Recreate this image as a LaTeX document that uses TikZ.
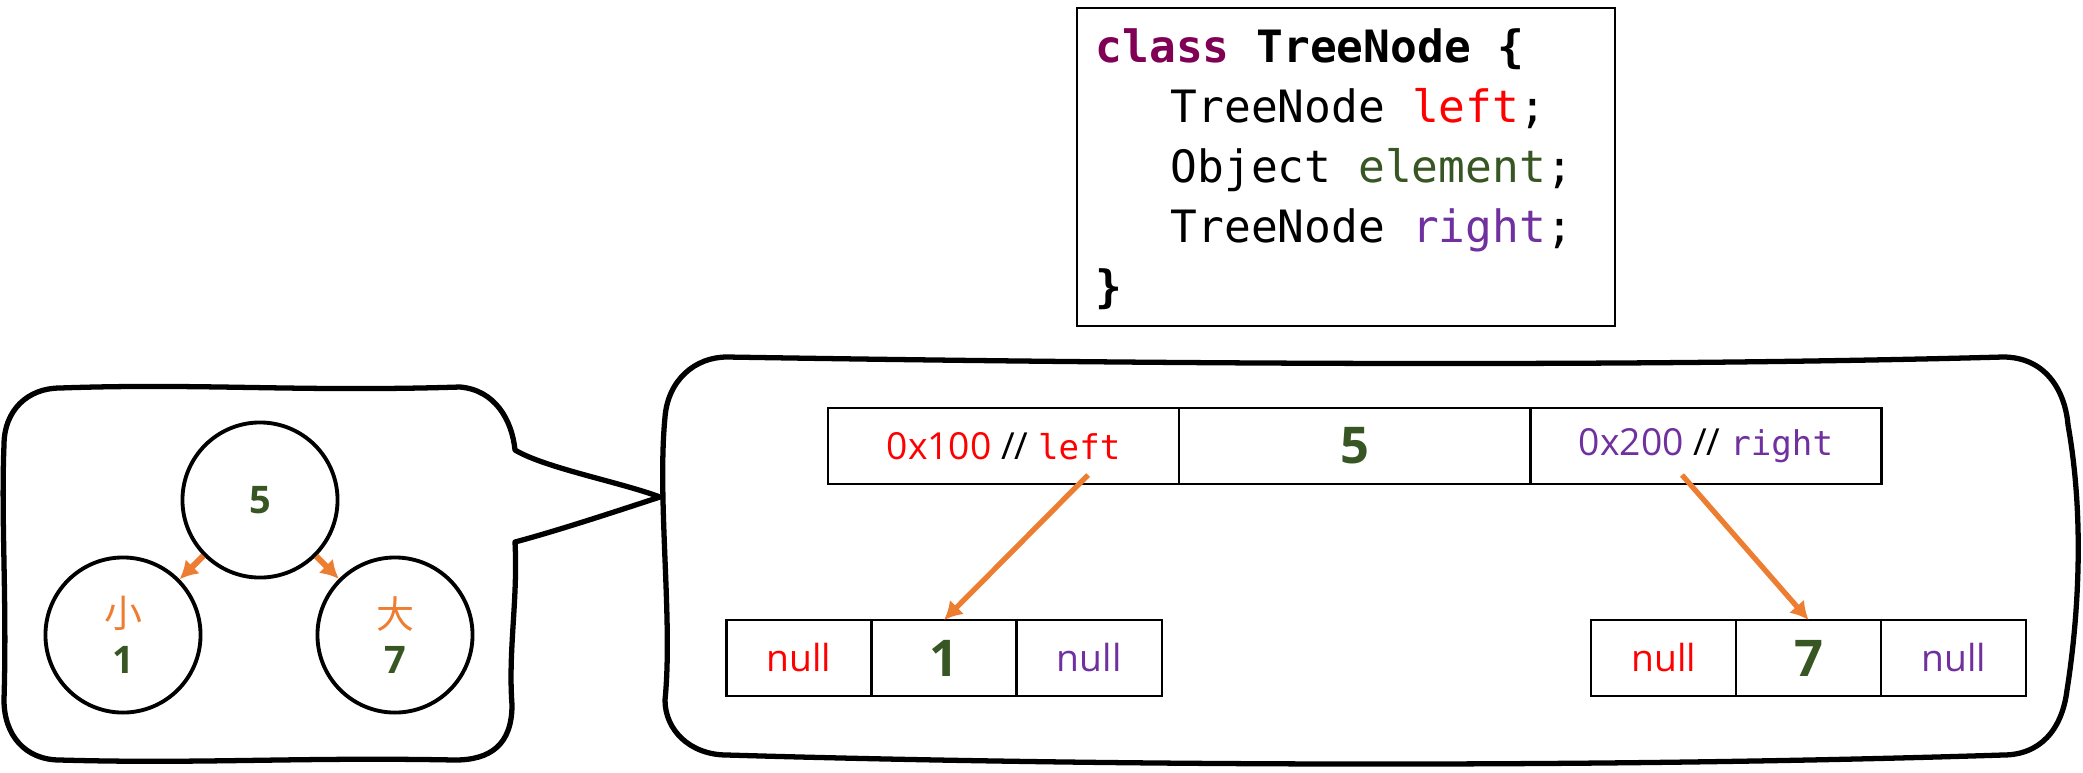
\documentclass[tikz,border=0pt]{standalone}
\usepackage{fontspec}
\setmainfont{Open Sans}
\setmonofont{DejaVu Sans Mono}
\newfontfamily\cjk{Noto Sans CJK SC}
\usetikzlibrary{positioning,arrows.meta}

\definecolor{kw}{RGB}{127,0,85}
\definecolor{fred}{RGB}{255,0,0}
\definecolor{fgreen}{RGB}{55,86,35}
\definecolor{fpurple}{RGB}{112,48,160}
\definecolor{forange}{RGB}{237,125,49}

\tikzset{
  bubble/.style={line width=1.5pt, line join=round},
  tnode/.style={circle, draw, line width=1.1pt, minimum size=1.55cm, inner sep=0pt,
    align=center, text=fgreen, font=\bfseries\fontsize{10.8pt}{13pt}\selectfont},
  cell/.style={rectangle, draw, line width=0.7pt, minimum height=0.76cm,
    inner sep=0pt, outer sep=0pt, font=\fontsize{10.6pt}{12pt}\selectfont},
  wide/.style={cell, minimum width=3.51cm},
  slot/.style={cell, minimum width=1.45cm},
  big/.style={text=fgreen, font=\bfseries\fontsize{14.4pt}{16pt}\selectfont},
  ptr/.style={forange, line width=1.5pt, -{Latex[length=0.18cm,width=0.2cm]}},
  node distance=0pt
}
\newcommand{\mono}[1]{{\ttfamily\fontsize{9.7pt}{12pt}\selectfont #1}}

\begin{document}
\begin{tikzpicture}[x=0.01cm, y=-0.01cm]
    \useasboundingbox (0,0) rectangle (2083,772);
    % speech bubble with the tree
    \draw[bubble] (60,388) .. controls (200,383) and (300,392) .. (460,387)
        .. controls (495,390) and (512,420) .. (515,450)
        .. controls (545,468) and (620,482) .. (660,497)
        .. controls (620,510) and (560,530) .. (515,542)
        .. controls (518,600) and (508,650) .. (512,705)
        .. controls (512,745) and (490,760) .. (455,760)
        .. controls (300,757) and (200,764) .. (60,760)
        .. controls (25,760) and (4,735) .. (4,700)
        .. controls (7,600) and (1,520) .. (4,445)
        .. controls (4,410) and (28,388) .. (60,388) -- cycle;
    % memory bubble
    \draw[bubble] (727,357) .. controls (1100,363) and (1600,368) .. (2003,357)
        .. controls (2045,357) and (2065,390) .. (2068,425)
        .. controls (2085,520) and (2078,620) .. (2067,690)
        .. controls (2062,730) and (2040,755) .. (2003,755)
        .. controls (1600,768) and (1100,766) .. (727,755)
        .. controls (690,755) and (665,730) .. (665,700)
        .. controls (673,620) and (657,500) .. (665,417)
        .. controls (668,380) and (695,357) .. (727,357) -- cycle;

    % class definition
    \node[draw, line width=0.6pt, minimum width=5.38cm, minimum height=3.18cm, inner sep=0pt] (code) at (1346,167) {};
    \node[anchor=north west, align=left, inner sep=0pt,
        font=\ttfamily\fontsize{12.66pt}{17.07pt}\selectfont] (src) at (1095,28)
        {{\color{kw}\bfseries class} \textbf{TreeNode \{}\\
         \hspace*{0.75cm}TreeNode {\color{fred}left};\\
         \hspace*{0.75cm}Object {\color{fgreen}element};\\
         \hspace*{0.75cm}TreeNode {\color{fpurple}right};\\
         \textbf{\}}};

    % tree
    \node[tnode] (root) at (260,500) {5};
    \node[tnode] (lc) at (123,635) {{\cjk\mdseries\color{forange}小}\\1};
    \node[tnode] (rc) at (395,635) {{\cjk\mdseries\color{forange}大}\\7};
    \draw[ptr, line width=1.7pt] (root) -- (lc);
    \draw[ptr, line width=1.7pt] (root) -- (rc);

    % memory layout
    \node[wide, text=fred] (pl) at (1003.5,446) {0x100 {\color{black}//} \mono{left}};
    \node[wide, big, right=of pl] (pv) {5};
    \node[wide, text=fpurple, right=of pv] (pr) {0x200 {\color{black}//} \mono{right}};

    \node[slot, text=fred] (la) at (799,658) {null};
    \node[slot, big, right=of la] (lv) {1};
    \node[slot, text=fpurple, right=of lv] (lb) {null};

    \node[slot, text=fred] (ra) at (1663.5,658) {null};
    \node[slot, big, right=of ra] (rv) {7};
    \node[slot, text=fpurple, right=of rv] (rb) {null};

    \coordinate (lptr) at (1088,475);
    \coordinate (rptr) at (1682,475);
    \draw[ptr] (lptr) -- (lv.north);
    \draw[ptr] (rptr) -- (rv.north);
\end{tikzpicture}
\end{document}
